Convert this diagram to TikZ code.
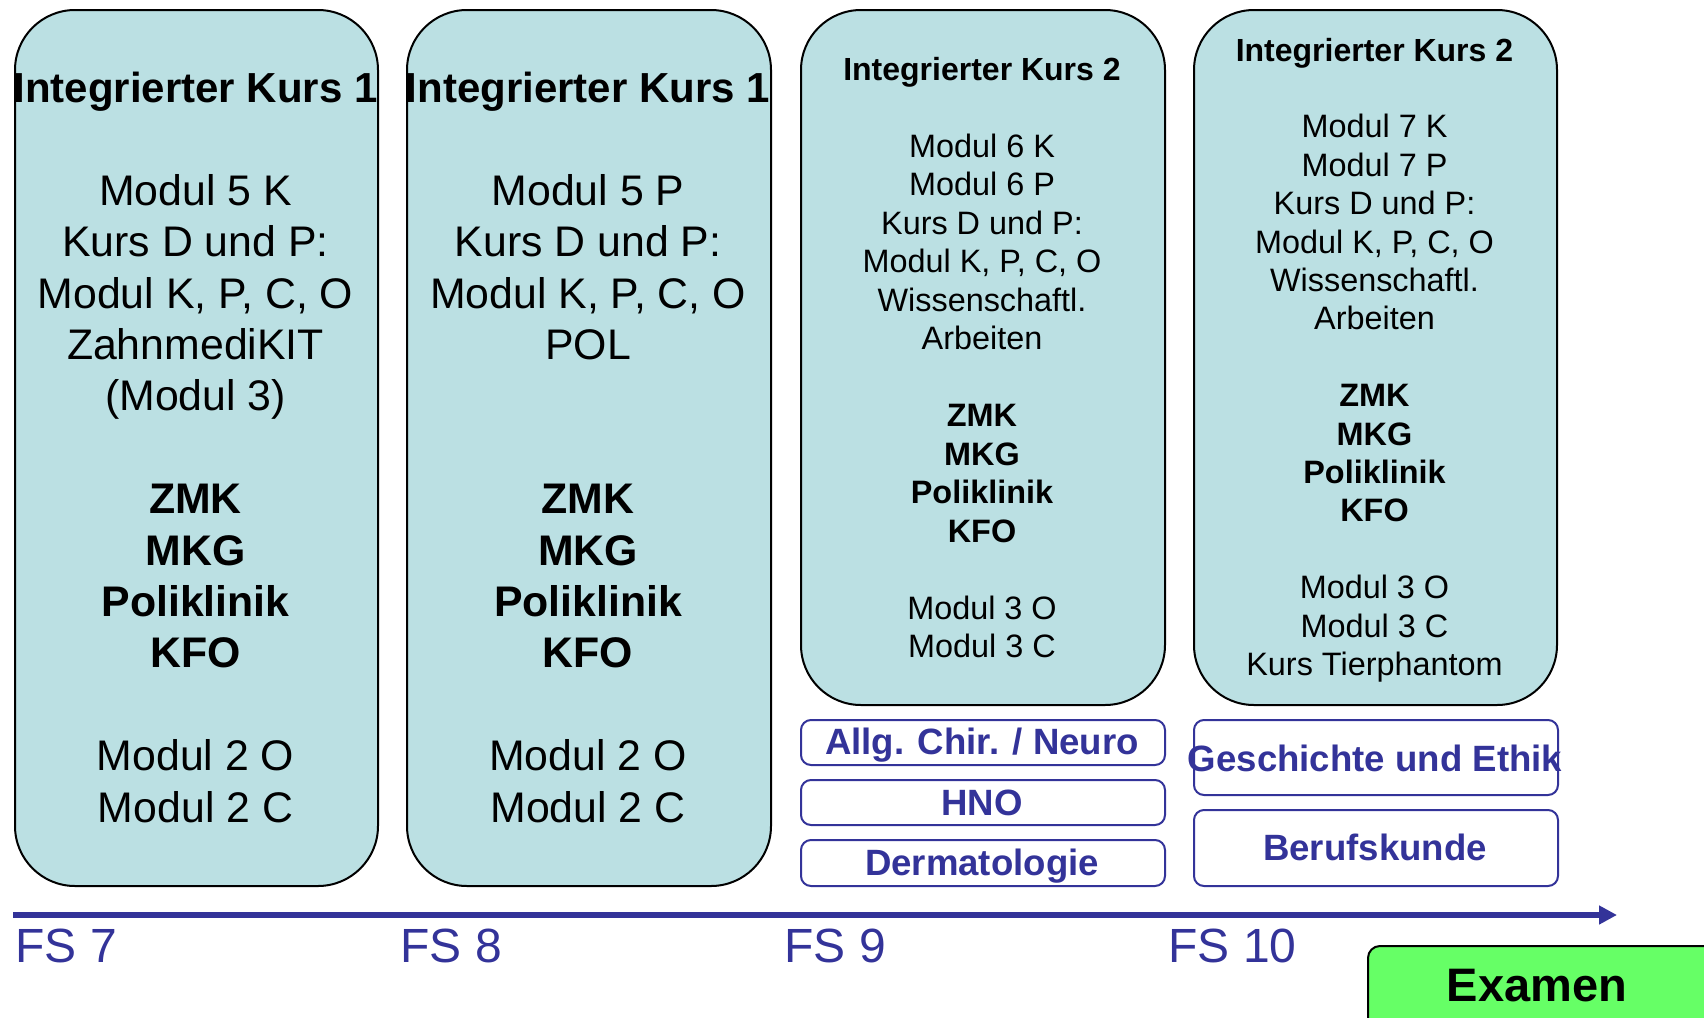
\documentclass[tikz,border=0pt]{standalone}
\usepackage{fontspec}
\setmainfont{Liberation Sans}
\usetikzlibrary{arrows.meta}
\definecolor{boxfill}{RGB}{187,224,227}
\definecolor{navy}{RGB}{51,51,153}
\definecolor{exgreen}{RGB}{102,255,102}
\begin{document}
\begin{tikzpicture}[x=0.5pt,y=-0.5pt,
  bigbox/.style={draw=black, line width=1pt, fill=boxfill, rounded corners=30pt, anchor=north west, inner sep=0pt},
  smallbox/.style={draw=navy, line width=1pt, rounded corners=5pt, anchor=north west, inner sep=0pt},
  textA/.style={font=\fontsize{21.4pt}{25pt}\selectfont, anchor=base, inner sep=0pt},
  titleA/.style={font=\fontsize{21pt}{25pt}\selectfont\bfseries, anchor=base, inner sep=0pt},
  textB/.style={font=\fontsize{16.2pt}{19pt}\selectfont, anchor=base, inner sep=0pt},
  titleB/.style={font=\fontsize{16pt}{19pt}\selectfont\bfseries, anchor=base, inner sep=0pt},
  smalltext/.style={font=\fontsize{18.3pt}{22pt}\selectfont\bfseries, text=navy, anchor=base, inner sep=0pt},
  fstext/.style={font=\fontsize{24pt}{28pt}\selectfont, text=navy, anchor=base west, inner sep=0pt},
  axis/.style={draw=navy, line width=3pt, -{Triangle[length=9pt,width=9pt]}}
]
\useasboundingbox (0,0) rectangle (1704,1018);

% big boxes
\node[bigbox, minimum width=181.5pt, minimum height=438pt] (k1) at (14,9) {};
\node[bigbox, minimum width=182pt, minimum height=438pt] (k2) at (406,9) {};
\node[bigbox, minimum width=182pt, minimum height=347.5pt] (k3) at (800,9) {};
\node[bigbox, minimum width=181.5pt, minimum height=347.5pt] (k4) at (1193,9) {};

% box 1 text
\node[titleA] (a0) at (195.5,102.5) {Integrierter Kurs 1};
\foreach \k/\t in {2/{Modul 5 K}, 3/{Kurs D und P:},
  4/{Modul K, P, C, O}, 5/{ZahnmediKIT}, 6/{(Modul 3)}, 8/{\textbf{ZMK}}, 9/{\textbf{MKG}},
  10/{\textbf{Poliklinik}}, 11/{\textbf{KFO}}, 13/{Modul 2 O}, 14/{Modul 2 C}}
  \node[textA] (a\k) at (195.5,{102.5+51.4*\k}) {\t};

% box 2 text
\node[titleA] (b0) at (588,102.5) {Integrierter Kurs 1};
\foreach \k/\t in {2/{Modul 5 P}, 3/{Kurs D und P:},
  4/{Modul K, P, C, O}, 5/{POL}, 8/{\textbf{ZMK}}, 9/{\textbf{MKG}},
  10/{\textbf{Poliklinik}}, 11/{\textbf{KFO}}, 13/{Modul 2 O}, 14/{Modul 2 C}}
  \node[textA] (b\k) at (588,{102.5+51.4*\k}) {\t};

% box 3 text
\node[titleB] (c0) at (982,80) {Integrierter Kurs 2};
\foreach \k/\t in {2/{Modul 6 K}, 3/{Modul 6 P}, 4/{Kurs D und P:},
  5/{Modul K, P, C, O}, 6/{Wissenschaftl.}, 7/{Arbeiten}, 9/{\textbf{ZMK}}, 10/{\textbf{MKG}},
  11/{\textbf{Poliklinik}}, 12/{\textbf{KFO}}, 14/{Modul 3 O}, 15/{Modul 3 C}}
  \node[textB] (c\k) at (982,{80+38.5*\k}) {\t};

% box 4 text
\node[titleB] (d0) at (1374.5,61) {Integrierter Kurs 2};
\foreach \k/\t in {2/{Modul 7 K}, 3/{Modul 7 P}, 4/{Kurs D und P:},
  5/{Modul K, P, C, O}, 6/{Wissenschaftl.}, 7/{Arbeiten}, 9/{\textbf{ZMK}}, 10/{\textbf{MKG}},
  11/{\textbf{Poliklinik}}, 12/{\textbf{KFO}}, 14/{Modul 3 O}, 15/{Modul 3 C}, 16/{Kurs Tierphantom}}
  \node[textB] (d\k) at (1374.5,{61+38.4*\k}) {\t};

% small boxes
\node[smallbox, minimum width=182pt, minimum height=22.5pt] (s1) at (800,719) {};
\node[smallbox, minimum width=182pt, minimum height=22.5pt] (s2) at (800,779) {};
\node[smallbox, minimum width=182pt, minimum height=23pt] (s3) at (800,839) {};
\node[smallbox, minimum width=182pt, minimum height=37.5pt] (s4) at (1193,719) {};
\node[smallbox, minimum width=182pt, minimum height=38pt] (s5) at (1193,809) {};

\node[smalltext] (t1) at (982,754) {Allg. Chir. / Neuro};
\node[smalltext] (t2) at (982,815) {HNO};
\node[smalltext] (t3) at (982,875) {Dermatologie};
\node[smalltext] (t4) at (1375,771) {Geschichte und Ethik};
\node[smalltext] (t5) at (1375,860) {Berufskunde};

% axis
\coordinate (ax0) at (13,915);
\coordinate (ax1) at (1617,915);
\draw[axis] (ax0) -- (ax1);

\node[fstext] (fs7) at (15,962) {FS 7};
\node[fstext] (fs8) at (400,962) {FS 8};
\node[fstext] (fs9) at (784,962) {FS 9};
\node[fstext] (fs10) at (1168,962) {FS 10};

% Examen
\node[draw=black, line width=1pt, fill=exgreen, rounded corners=6pt, anchor=north west,
  minimum width=180pt, minimum height=50pt, inner sep=0pt] (ex) at (1367,945) {};
\node[font=\fontsize{23.5pt}{28pt}\selectfont\bfseries, anchor=base, inner sep=0pt] (ext) at (1537,1001) {Examen};
\end{tikzpicture}
\end{document}
